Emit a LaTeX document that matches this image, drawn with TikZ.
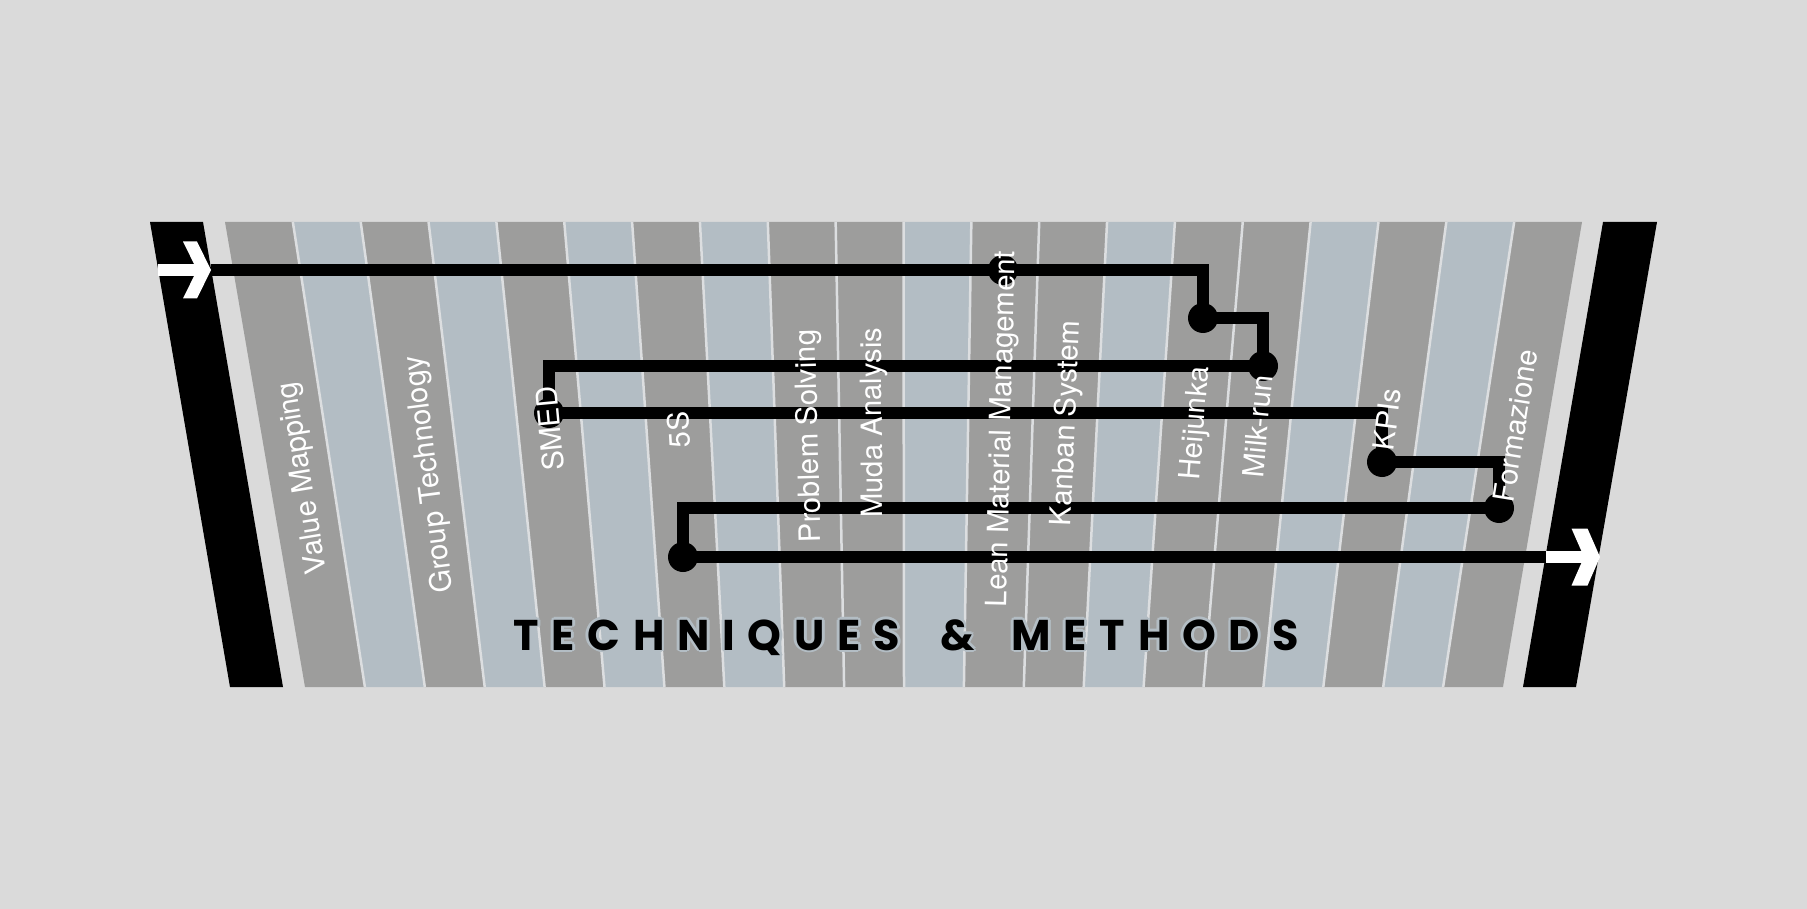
\documentclass[tikz,border=0pt]{standalone}
\usepackage{fontspec}
\setmainfont{Liberation Sans}
\newfontfamily\lblfont{TeX Gyre Heros}
\newfontfamily\ttlfont{Poppins}
\definecolor{bgc}{HTML}{DADADA}
\definecolor{grayst}{HTML}{9D9D9C}
\definecolor{bluest}{HTML}{B3BDC4}
\definecolor{sepc}{HTML}{DCDEE0}
\newcommand\tk{\kern12.8pt}
\newcommand\mytitletext{T\tk E\tk C\tk H\tk N\tk I\tk Q\tk U\tk E\tk S\kern40pt\&\kern37pt M\tk E\tk T\tk H\tk O\tk D\tk S}
\tikzset{
  sepline/.style={draw=sepc, line width=2.5pt},
  barshape/.style={fill=black},
  conn/.style={draw=black, line width=12pt, line join=miter},
  wline/.style={draw=white, line width=12pt},
  jdot/.style={circle, fill=black, minimum size=30pt, inner sep=0pt},
  lbl/.style={anchor=base west, inner sep=0pt, text=white, font=\lblfont\fontsize{29.3}{29.3}\selectfont},
  ttl/.style={anchor=base west, inner sep=0pt, font=\ttlfont\bfseries\fontsize{43}{43}\selectfont},
}
\begin{document}
\begin{tikzpicture}[x=1pt,y=-1pt]
\useasboundingbox (0,0) rectangle (1807,909);
\fill[bgc] (0,0) rectangle (1807,909);
% stripes
\foreach \i/\c in {0/grayst,1/bluest,2/grayst,3/bluest,4/grayst,5/bluest,6/grayst,7/bluest,8/grayst,9/grayst,10/bluest,11/grayst,12/grayst,13/bluest,14/grayst,15/grayst,16/bluest,17/grayst,18/bluest,19/grayst}{
  \fill[\c] ({225+67.85*\i},222) -- ({225+67.85*(\i+1)},222) -- ({305+59.9*(\i+1)},687) -- ({305+59.9*\i},687) -- cycle;
}
\foreach \i in {1,...,19}{
  \draw[sepline] ({225+67.85*\i},222) -- ({305+59.9*\i},687);
}
% side bars
\fill[barshape] (150,222) -- (203,222) -- (283,687) -- (230,687) -- cycle;
\fill[barshape] (1603,222) -- (1657,222) -- (1576,687) -- (1523,687) -- cycle;
% title
\foreach \a in {0,45,...,315}{
  \node[ttl, text=bluest] (ttlo\a) at ({513+2.8*cos(\a)},{650+2.8*sin(\a)}) {\mytitletext};
}
\node[ttl, text=black] (ttl) at (513,650) {\mytitletext};
% junction dots
\node[jdot] (lmm) at (1003,270) {};
\node[jdot] (hei) at (1203,318) {};
\node[jdot] (mil) at (1263,366) {};
\node[jdot] (smed) at (549,413) {};
\node[jdot] (kpi) at (1382,462) {};
\node[jdot] (form) at (1499,508) {};
\node[jdot] (fives) at (683,557) {};
% arrow points
\coordinate (lstart) at (158,270);
\coordinate (lnotch) at (197,270);
\coordinate (ain) at (211,270);
\coordinate (aout) at (1546,557);
\coordinate (rnotch) at (1584,557);
% connector
\draw[conn] (ain) -| (hei.center) -| (mil.center) -| (smed.center) -| (kpi.center) -| (form.center) -| (fives.center) -- (aout);
% white arrow parts
\draw[wline] (lstart) -- (lnotch);
\fill[white] (183,241.5) -- (197,241.5) -- (211,270) -- (197,298.5) -- (183,298.5) -- (197,270) -- cycle;
\draw[wline] (aout) -- (rnotch);
\fill[white] (1571.5,528.5) -- (1587.5,528.5) -- (1600,557) -- (1587.5,585.5) -- (1571.5,585.5) -- (1584,557) -- cycle;
% labels, each centred on its stripe and tilted along it
\foreach \s/\yy/\nm/\txt in {0/574/l1/Value Mapping, 2/593/l2/Group Technology, 4/471/l3/SMED, 6/448/l4/5S, 8/543/l5/Problem Solving, 9/518/l6/Muda Analysis, 11/607/l7/Lean Material Management, 12/526/l8/Kanban System, 14/480/l9/Heijunka, 15/478/l10/Milk-run, 17/450/l11/KPIs, 19/502/l12/Formazione}{
  \pgfmathsetmacro\tc{225+67.85*(\s+0.5)}
  \pgfmathsetmacro\dx{305+59.9*(\s+0.5)-\tc}
  \pgfmathsetmacro\ang{90+atan(\dx/465)}
  \pgfmathsetmacro\fr{(\yy-222)/465}
  \pgfmathsetmacro\cx{\tc+\dx*\fr}
  \pgfmathsetmacro\bx{\cx+10.5*sin(\ang)}
  \pgfmathsetmacro\by{\yy+10.5*cos(\ang)}
  \node[lbl, rotate=\ang] (\nm) at (\bx,\by) {\txt};
}
\end{tikzpicture}
\end{document}
